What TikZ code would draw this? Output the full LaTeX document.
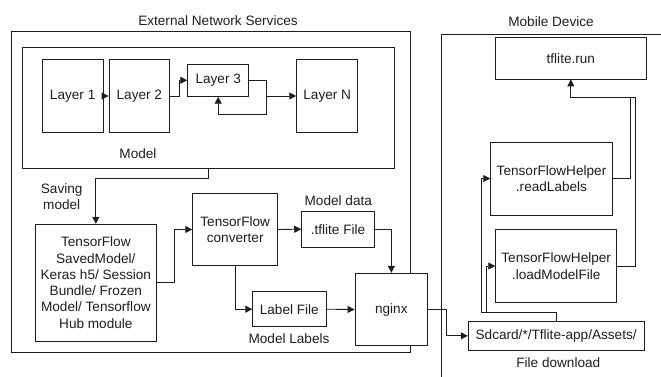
\documentclass[tikz,border=0pt]{standalone}
\usepackage{fontspec}
\setmainfont{Liberation Sans}
\usetikzlibrary{arrows.meta,calc}
\definecolor{ink}{RGB}{30,30,30}
\begin{document}
\begin{tikzpicture}[x=1pt,y=-1pt,
  every node/.style={font=\fontsize{13.6}{16.3}\selectfont, text=ink},
  box/.style={draw=ink, line width=0.9pt, fill=white, inner sep=0pt, align=center},
  lbl/.style={inner sep=0pt, align=center},
  conn/.style={draw=ink, line width=0.9pt},
  arr/.style={conn, -{Triangle[length=7pt,width=7pt]}}]
\useasboundingbox (0,0) rectangle (661,377);
% containers
\node[box, fill=none, minimum width=399.7pt, minimum height=321.7pt] (ext) at (210.85,191.85) {};
\node[lbl] (exttitle) at (218,21) {External Network Services};
\draw[conn] (441,377) -- (441,34.3) -- (661,34.3);
\node[lbl] (mobtitle) at (551,21.5) {Mobile Device};
\node[box, fill=none, minimum width=371.3pt, minimum height=120.6pt] (model) at (208.35,108) {};
\node[lbl] (modellabel) at (138,154) {Model};
% layers
\node[box, minimum width=60.7pt, minimum height=72.6pt] (l1) at (72.65,96) {Layer 1};
\node[box, minimum width=60.7pt, minimum height=72.6pt] (l2) at (139.35,96) {Layer 2};
\node[box, minimum width=61pt, minimum height=32pt] (l3) at (218.2,80.3) {Layer 3};
\node[box, minimum width=61pt, minimum height=73.4pt] (lN) at (327.2,96) {Layer N};
% lower left
\node[box, minimum width=121.7pt, minimum height=116.7pt] (saved) at (95.85,282.65)
  {TensorFlow\\SavedModel/\\Keras h5/ Session\\Bundle/ Frozen\\Model/ Tensorflow\\Hub module};
\node[lbl] (savinglabel) at (61.7,196.3) {Saving\\model};
\node[box, minimum width=85pt, minimum height=72.4pt] (conv) at (235.2,229.5) {TensorFlow\\converter};
\node[box, minimum width=72.6pt, minimum height=36.3pt] (tfl) at (338,229.15) {.tflite File};
\node[lbl] (modeldata) at (338.3,200.7) {Model data};
\node[box, minimum width=73.3pt, minimum height=35pt] (label) at (289.35,309.2) {Label File};
\node[lbl] (modellabels) at (289,339) {Model Labels};
\node[box, minimum width=72.7pt, minimum height=72.4pt] (nginx) at (391.35,309.5) {nginx};
% mobile
\node[box, minimum width=175.7pt, minimum height=28.3pt] (sd) at (556.15,335.85) {Sdcard/*/Tflite-app/Assets/};
\node[lbl] (filedl) at (558.3,362.7) {File download};
\node[box, minimum width=121.6pt, minimum height=73pt] (rl) at (551.5,178.5) {TensorFlowHelper\\.readLabels};
\node[box, minimum width=121pt, minimum height=73.4pt] (lm) at (556.2,266) {TensorFlowHelper\\.loadModelFile};
\node[box, minimum width=150.3pt, minimum height=41.3pt] (run) at (570.85,58.35) {tflite.run};
% connectors in model
\draw[arr] (l1.east) -- (l2.west);
\draw[arr] (l2.east) -- ++(9.3,0) |- (l3.west);
\coordinate (loop) at (266.7,114);
\draw[arr] (l3.east) -| (loop) -| (l3.south);
\draw[arr] (loop |- lN.west) -- (lN.west);
% lower connectors
\draw[arr] (model.south) -- ++(0,10) -| (saved.north);
\draw[arr] (saved.east) -- ++(17.6,0) |- (conv.west);
\draw[arr] (conv.east) -- (tfl.west);
\draw[arr] (tfl.east) -| (nginx.north);
\draw[arr] (conv.south) |- (label.west);
\draw[arr] (label.east) -- (nginx.west);
\draw[arr] (nginx.east) -- ++(18.3,0) |- (sd.west);
% mobile connectors
\coordinate (sdj) at (556.15,312.3);
\draw[arr] (sd.north) -- (sdj) -| ([xshift=-9pt]rl.west) -- (rl.west);
\draw[arr] (sdj) -| ([xshift=-8.4pt]lm.west) -- (lm.west);
\coordinate (runj) at (570.85,97.3);
\draw[arr] (rl.east) -- ++(17.7,0) |- (runj) -- (run.south);
\draw[conn] (lm.east) -- ++(18,0) |- (runj);
\end{tikzpicture}
\end{document}
